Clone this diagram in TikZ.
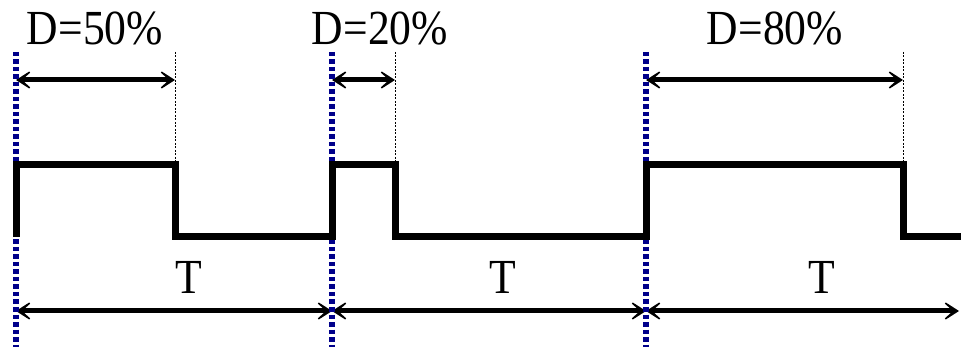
\documentclass[tikz,border=0pt]{standalone}
\usepackage{fontspec}
\setmainfont{Liberation Serif}
\usepackage{graphicx}
\usetikzlibrary{arrows.meta}
\definecolor{navy}{RGB}{0,0,139}
\begin{document}
\begin{tikzpicture}[x=1pt,y=-1pt,
  marker/.style={draw=navy, line width=5.5pt, dash pattern=on 4.5pt off 3pt},
  guide/.style={draw=black, line width=1pt, dash pattern=on 2pt off 1.5pt},
  signal/.style={draw=black, line width=7pt, line join=miter},
  dimarrow/.style={draw=black, line width=5pt,
    {Stealth[length=21pt,width=27pt,inset=15pt]}-{Stealth[length=21pt,width=27pt,inset=15pt]}},
  lbl/.style={font=\fontsize{49}{49}\selectfont, anchor=base, inner sep=0pt}]
\useasboundingbox (0,0) rectangle (961,347);
% marker line ends
\coordinate (m1t) at (16,52);  \coordinate (m1b) at (16,347);
\coordinate (m2t) at (332,52); \coordinate (m2b) at (332,347);
\coordinate (m3t) at (646,52); \coordinate (m3b) at (646,347);
% guide line ends
\coordinate (g1t) at (175,52); \coordinate (g1b) at (175,165);
\coordinate (g2t) at (395,52); \coordinate (g2b) at (395,165);
\coordinate (g3t) at (903,52); \coordinate (g3b) at (903,165);
% arrow ends
\coordinate (d1a) at (16,80);  \coordinate (d1b) at (175,80);
\coordinate (d2a) at (332,80); \coordinate (d2b) at (395,80);
\coordinate (d3a) at (646,80); \coordinate (d3b) at (903,80);
\coordinate (t1a) at (16,311);  \coordinate (t1b) at (332,311);
\coordinate (t2a) at (332,311); \coordinate (t2b) at (646,311);
\coordinate (t3a) at (646,311); \coordinate (t3b) at (959,311);
\coordinate (rend) at (961,237);

% guides
\draw[guide] (g1t) -- (g1b);
\draw[guide] (g2t) -- (g2b);
\draw[guide] (g3t) -- (g3b);
% arrows
\draw[dimarrow] (d1a) -- (d1b);
\draw[dimarrow] (d2a) -- (d2b);
\draw[dimarrow] (d3a) -- (d3b);
\draw[dimarrow] (t1a) -- (t1b);
\draw[dimarrow] (t2a) -- (t2b);
\draw[dimarrow] (t3a) -- (t3b);
% markers
\draw[marker] (m1t) -- (m1b);
\draw[marker] (m2t) -- (m2b);
\draw[marker] (m3t) -- (m3b);
% signal
\draw[signal] (16,237) -- (16,165) -- (175,165) -- (175,237) -- (332,237)
  -- (332,165) -- (395,165) -- (395,237) -- (646,237) -- (646,165)
  -- (903,165) -- (903,237) -- (rend);
% labels
\node[lbl] (l1) at (95,45) {\scalebox{0.89}[1]{D=50\%}};
\node[lbl] (l2) at (380,45) {\scalebox{0.89}[1]{D=20\%}};
\node[lbl] (l3) at (775,45) {\scalebox{0.89}[1]{D=80\%}};
\node[lbl] (tl1) at (189,294) {\scalebox{0.89}[1]{T}};
\node[lbl] (tl2) at (503,294) {\scalebox{0.89}[1]{T}};
\node[lbl] (tl3) at (822,294) {\scalebox{0.89}[1]{T}};
\end{tikzpicture}
\end{document}
